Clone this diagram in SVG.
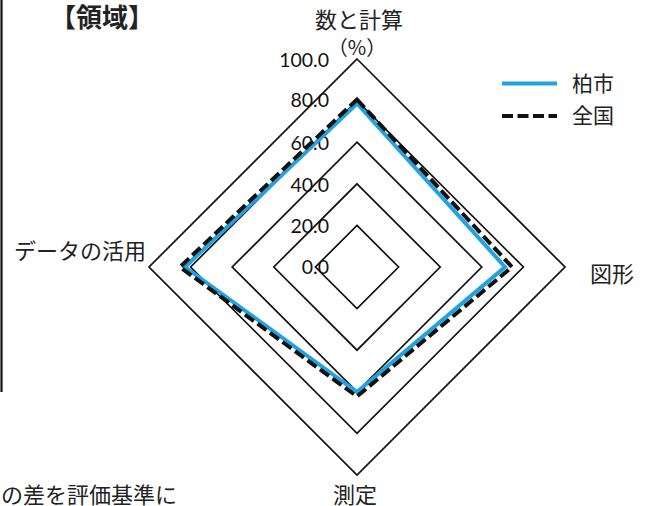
<svg xmlns="http://www.w3.org/2000/svg" width="645" height="506" viewBox="0 0 645 506">
<style>
.ring{fill:none;stroke:#111;stroke-width:1.7;stroke-linejoin:miter}
.kashiwa{fill:none;stroke:#1fa3e3;stroke-width:4;stroke-linejoin:miter}
.zenkoku{fill:none;stroke:#111;stroke-width:4;stroke-dasharray:11 4.5;stroke-linejoin:miter}
.jp{font-family:"Noto Sans CJK JP","Noto Sans",sans-serif;font-size:22px;fill:#222}
.num{font-family:Lato,"Liberation Sans",sans-serif;font-size:19.5px;fill:#111;text-anchor:end}
</style>
<rect x="0" y="0" width="645" height="506" fill="#fff"/>
<line x1="1.5" y1="0" x2="1.5" y2="392" stroke="#111" stroke-width="2.2"/>
<g id="title"><text x="102" y="27" class="jp" style="font-size:26px;font-weight:bold;text-anchor:middle">【領域】</text></g>
<g id="grid">
<polygon class="ring" points="357,225.4 398.6,267 357,308.6 315.4,267"/>
<polygon class="ring" points="357,183.8 440.2,267 357,350.2 273.8,267"/>
<polygon class="ring" points="357,142.2 481.8,267 357,391.8 232.2,267"/>
<polygon class="ring" points="357,100.6 523.4,267 357,433.4 190.6,267"/>
<polygon class="ring" points="357,59 565,267 357,475 149,267"/>
</g>
<g id="scale">
<text class="num" x="329" y="67">100.0</text>
<text class="num" x="329" y="107">80.0</text>
<text class="num" x="329" y="150">60.0</text>
<text class="num" x="329" y="192">40.0</text>
<text class="num" x="329" y="233">20.0</text>
<text class="num" x="329" y="274">0.0</text>
</g>
<g id="series">
<polygon id="kashiwa" class="kashiwa" points="357,103.5 505,267 357,392 185,267"/>
<polygon id="zenkoku" class="zenkoku" points="357,99.5 512,267 357,396.5 180,267"/>
</g>
<g id="axis-labels">
<g id="label-top"><text class="jp" x="359" y="28" text-anchor="middle">数と計算</text>
<text class="jp" x="357" y="55" text-anchor="middle" style="font-size:20px">（%）</text></g>
<g id="label-left"><text class="jp" x="14" y="259">データの活用</text></g>
<g id="label-right"><text class="jp" x="590" y="282">図形</text></g>
<g id="label-bottom"><text class="jp" x="355" y="503" text-anchor="middle">測定</text></g>
</g>
<g id="legend">
<line x1="502" y1="83.5" x2="557" y2="83.5" class="kashiwa"/>
<text class="jp" x="572" y="91" style="font-size:21px">柏市</text>
<line x1="502" y1="116" x2="557" y2="116" class="zenkoku"/>
<text class="jp" x="572" y="123" style="font-size:21px">全国</text>
</g>
<text class="jp" x="1" y="503">の差を評価基準に</text>
</svg>
